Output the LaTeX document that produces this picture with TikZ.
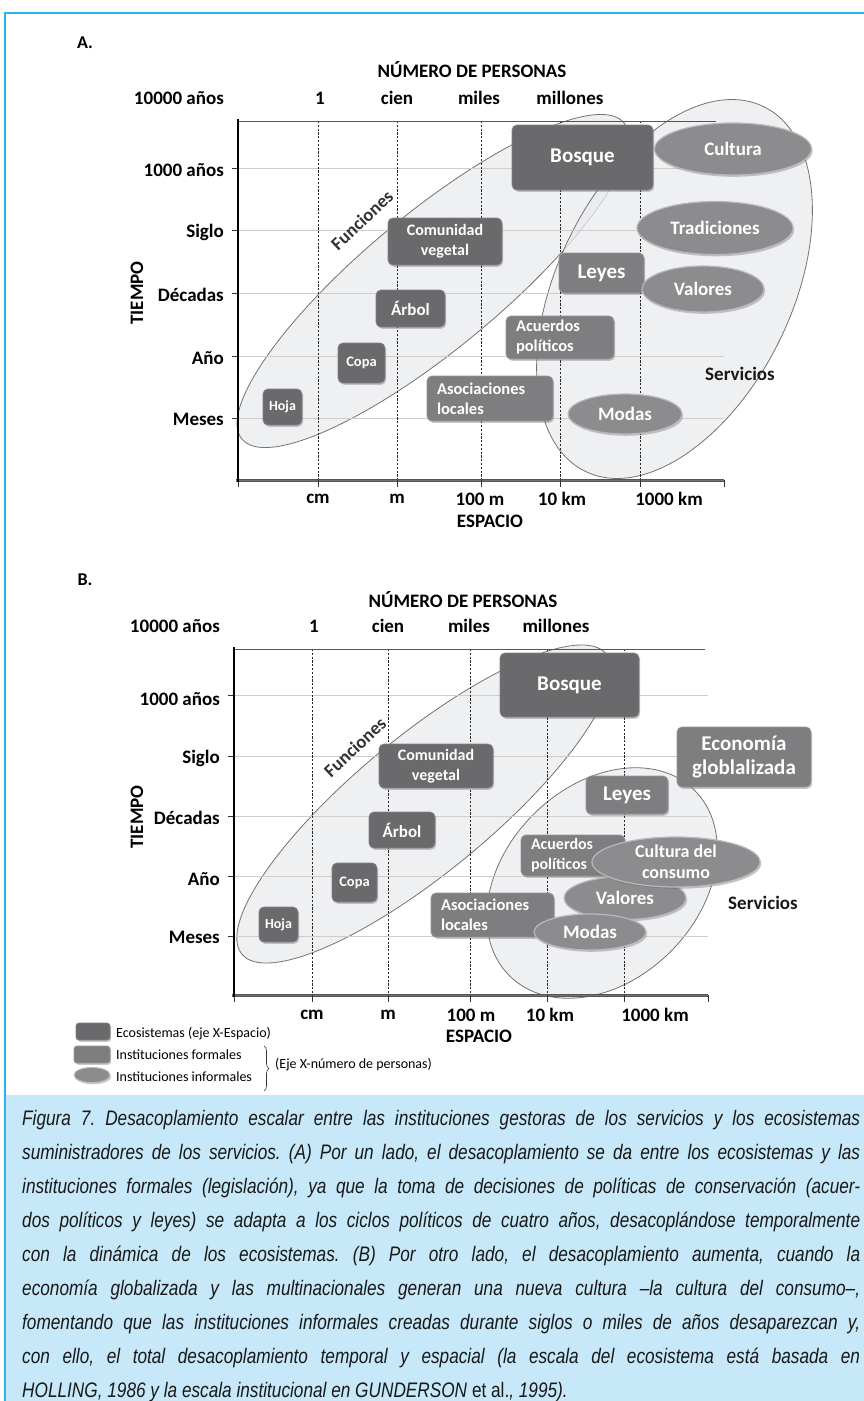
\documentclass[tikz,border=0pt]{standalone}
\usepackage{fontspec}
\setmainfont{Carlito}
\newfontfamily\capfont[FakeStretch=0.82]{Liberation Sans}
\usetikzlibrary{shapes.geometric,shadows,decorations.pathreplacing}
\newcommand\fsz[2]{\fontsize{#1}{#2}\selectfont}
\frenchspacing
\definecolor{framecyan}{RGB}{40,182,232}
\definecolor{capblue}{RGB}{198,232,248}
\definecolor{ecogray}{RGB}{106,106,108}
\definecolor{ecoedge}{RGB}{130,130,132}
\definecolor{formgray}{RGB}{126,126,128}
\definecolor{formedge}{RGB}{150,150,152}
\definecolor{infgray}{RGB}{140,140,142}
\definecolor{infrim}{RGB}{185,185,187}
\definecolor{bigfill}{RGB}{234,235,238}
\definecolor{bigline}{RGB}{115,115,115}
\definecolor{gridgray}{RGB}{205,205,205}
\definecolor{axisgray}{RGB}{85,85,85}
\tikzset{
  shad/.style={drop shadow={shadow xshift=1.2pt, shadow yshift=-1.8pt, opacity=0.35, fill=black!60}},
  ecobox/.style={rectangle, rounded corners=5pt, fill=ecogray, draw=ecoedge, line width=0.8pt, text=white, font=\bfseries, inner sep=0pt, align=center, shad},
  formbox/.style={ecobox, fill=formgray, draw=formedge},
  infell/.style={ellipse, fill=infgray, draw=infrim, line width=1.2pt, text=white, font=\bfseries, inner sep=0pt, align=center, shad},
  axlab/.style={font=\bfseries\fsz{19}{22}, text=black, inner sep=0pt},
  ticklab/.style={axlab, anchor=east},
  panellab/.style={font=\bfseries\fsz{18}{20}, inner sep=0pt},
  bigell/.style={fill=bigfill, fill opacity=0.75, draw=bigline, line width=0.8pt},
  dashv/.style={black!85, line width=0.55pt, dash pattern=on 2.2pt off 1.6pt},
  gridh/.style={gridgray, line width=0.7pt},
  tickm/.style={black!80, line width=0.8pt},
  funlab/.style={font=\bfseries\fsz{18.5}{20}, text=black!80, inner sep=0pt, rotate=43},
  servlab/.style={font=\bfseries\fsz{19}{22}, text=black!90, inner sep=0pt},
  leglab/.style={font=\fsz{14}{16}, anchor=west, inner sep=0pt},
  capline/.style={font=\capfont\itshape\fsz{21}{34}, text=black!90, anchor=base west, inner sep=0pt},
}
\begin{document}
\begin{tikzpicture}[x=1pt,y=-1pt]
\useasboundingbox (0,0) rectangle (864,1401);
\fill[white] (0,0) rectangle (864,1401);
\fill[capblue] (5,1095) rectangle (866,1403);
\draw[framecyan, line width=1.5pt] (5,1403) -- (5,13) -- (866,13);

% ================= PANEL A =================
\node[panellab] (labA) at (85,43) {A.};
\node[axlab] (npA) at (472,70) {NÚMERO DE PERSONAS};
\node[ticklab] (t10kA) at (224,98) {10000 años};
\node[axlab] (n1A) at (320,98) {1};
\node[axlab] (ncienA) at (397,98) {cien};
\node[axlab] (nmilesA) at (479,98) {miles};
\node[axlab] (nmillA) at (570,98) {millones};

% big ellipses
\draw[bigell, rotate around={39.6:(433,281)}] (433,281) ellipse [x radius=248, y radius=68];
\draw[bigell, rotate around={63.9:(674.5,289)}] (674.5,289) ellipse [x radius=203, y radius=117];

% grid
\foreach \y in {168,230,293,356,418} {
  \draw[gridh] (238,\y) -- (724,\y);
  \draw[tickm] (232,\y) -- (238,\y);
}
\foreach \x in {318.5,397,481,560,640} \draw[dashv] (\x,121) -- (\x,480);
\draw[axisgray, line width=1pt] (238,121) -- (716,121);
\draw[axisgray, line width=3pt] (236,480) -- (724,480);
\draw[black!55, line width=0.8pt] (236,480) -- (724,480);
\foreach \x in {238,318.5,397,481,560,640,724} \draw[tickm] (\x,480) -- (\x,487);
\draw[black, line width=2.6pt] (238,119) -- (238,482);

\node[ticklab] (y1kA) at (224,170) {1000 años};
\node[ticklab] (ysA) at (224,232) {Siglo};
\node[ticklab] (ydA) at (224,295) {Décadas};
\node[ticklab] (yaA) at (224,358) {Año};
\node[ticklab] (ymA) at (224,419) {Meses};
\node[axlab, rotate=90] (tiempoA) at (137,293) {TIEMPO};
\node[axlab] (xcmA) at (318,499) {cm};
\node[axlab] (xmA) at (397,499) {m};
\node[axlab] (x100A) at (480,499) {100 m};
\node[axlab] (x10kA) at (562,499) {10 km};
\node[axlab] (x1000A) at (669,499) {1000 km};
\node[axlab] (espA) at (490,521) {ESPACIO};

\node[funlab] (funA) at (362,220) {Funciones};
\node[servlab] (servA) at (740,374) {Servicios};

\node[ecobox, minimum width=141pt, minimum height=65pt, font=\bfseries\fsz{21}{24}] (bosqueA) at (582.5,157.5) {Bosque};
\node[ecobox, minimum width=114pt, minimum height=47pt, font=\bfseries\fsz{16}{20}] (comA) at (445,241.5) {Comunidad\\vegetal};
\node[ecobox, minimum width=69pt, minimum height=37pt, font=\bfseries\fsz{17}{20}] (arbolA) at (410.5,308.5) {Árbol};
\node[ecobox, minimum width=47pt, minimum height=40pt, font=\bfseries\fsz{14.5}{17}] (copaA) at (361.5,363) {Copa};
\node[ecobox, minimum width=39pt, minimum height=36pt, font=\bfseries\fsz{14}{17}] (hojaA) at (282.5,407) {Hoja};
\node[formbox, minimum width=85pt, minimum height=40pt, font=\bfseries\fsz{21}{24}] (leyesA) at (601.5,273) {Leyes};
\node[formbox, text width=88pt, inner xsep=10pt, minimum height=43pt, align=left, font=\bfseries\fsz{16.5}{20}] (acuA) at (560,337.5) {Acuerdos\\políticos};
\node[formbox, text width=106pt, inner xsep=10pt, minimum height=45pt, align=left, font=\bfseries\fsz{16.5}{20}] (asoA) at (490,398.5) {Asociaciones\\locales};
\node[infell, minimum width=157pt, minimum height=52pt, font=\bfseries\fsz{19}{22}] (culA) at (733,149) {Cultura};
\node[infell, minimum width=156pt, minimum height=53pt, font=\bfseries\fsz{19}{22}] (traA) at (715,228) {Tradiciones};
\node[infell, minimum width=122pt, minimum height=46pt, font=\bfseries\fsz{19}{22}] (valA) at (703,289) {Valores};
\node[infell, minimum width=114pt, minimum height=40pt, font=\bfseries\fsz{19}{22}] (modA) at (625,414) {Modas};

% ================= PANEL B =================
\node[panellab] (labB) at (85,580) {B.};
\node[axlab] (npB) at (463,600) {NÚMERO DE PERSONAS};
\node[ticklab] (t10kB) at (220,626) {10000 años};
\node[axlab] (n1B) at (314,626) {1};
\node[axlab] (ncienB) at (388,626) {cien};
\node[axlab] (nmilesB) at (469,626) {miles};
\node[axlab] (nmillB) at (556,626) {millones};

\draw[bigell, rotate around={39.5:(424,804)}] (424,804) ellipse [x radius=236, y radius=68];
\draw[bigell, rotate around={45:(602,883)}] (602,883) ellipse [x radius=131, y radius=97];

\foreach \y in {695,756,816,876,936} {
  \draw[gridh] (234,\y) -- (708,\y);
  \draw[tickm] (228,\y) -- (234,\y);
}
\foreach \x in {312,388,470,547,624} \draw[dashv] (\x,649) -- (\x,995);
\draw[axisgray, line width=1pt] (234,649) -- (705,649);
\draw[axisgray, line width=3pt] (232,995) -- (708,995);
\draw[black!55, line width=0.8pt] (232,995) -- (708,995);
\foreach \x in {234,312,388,470,547,624,708} \draw[tickm] (\x,995) -- (\x,1002);
\draw[black, line width=2.6pt] (234,647) -- (234,997);

\node[ticklab] (y1kB) at (220,699) {1000 años};
\node[ticklab] (ysB) at (220,758) {Siglo};
\node[ticklab] (ydB) at (220,818) {Décadas};
\node[ticklab] (yaB) at (220,879) {Año};
\node[ticklab] (ymB) at (220,937) {Meses};
\node[axlab, rotate=90] (tiempoB) at (137,817) {TIEMPO};
\node[axlab] (xcmB) at (312,1015) {cm};
\node[axlab] (xmB) at (388,1015) {m};
\node[axlab] (x100B) at (471,1015) {100 m};
\node[axlab] (x10kB) at (550,1015) {10 km};
\node[axlab] (x1000B) at (655,1015) {1000 km};
\node[axlab] (espB) at (479,1036) {ESPACIO};

\node[funlab] (funB) at (355,747) {Funciones};
\node[servlab] (servB) at (763,903) {Servicios};

\node[ecobox, minimum width=139pt, minimum height=64pt, font=\bfseries\fsz{21}{24}] (bosqueB) at (569.5,685) {Bosque};
\node[ecobox, minimum width=114pt, minimum height=44pt, font=\bfseries\fsz{16}{20}] (comB) at (436,766) {Comunidad\\vegetal};
\node[ecobox, minimum width=66pt, minimum height=36pt, font=\bfseries\fsz{17}{20}] (arbolB) at (402,830) {Árbol};
\node[ecobox, minimum width=45pt, minimum height=39pt, font=\bfseries\fsz{14.5}{17}] (copaB) at (354.5,882.5) {Copa};
\node[ecobox, minimum width=39pt, minimum height=35pt, font=\bfseries\fsz{14}{17}] (hojaB) at (278.5,924.5) {Hoja};
\node[formbox, minimum width=134pt, minimum height=60pt, font=\bfseries\fsz{21}{24}] (ecoB) at (744,757) {Economía\\globlalizada};
\node[formbox, minimum width=82pt, minimum height=38pt, font=\bfseries\fsz{21}{24}] (leyesB) at (627,795) {Leyes};
\node[formbox, text width=84pt, inner xsep=10pt, minimum height=41pt, align=left, font=\bfseries\fsz{16}{20}] (acuB) at (573,855.5) {Acuerdos\\políticos};
\node[formbox, text width=103pt, inner xsep=10pt, minimum height=44pt, align=left, font=\bfseries\fsz{16.5}{20}] (asoB) at (492.5,915) {Asociaciones\\locales};
\node[infell, minimum width=122pt, minimum height=43pt, font=\bfseries\fsz{19}{22}] (valB) at (625,898) {Valores};
\node[infell, minimum width=168pt, minimum height=50pt, inner ysep=-6pt, font=\bfseries\fsz{18}{21}] (culB) at (676,862) {Cultura del\\consumo};
\node[infell, minimum width=112pt, minimum height=36pt, font=\bfseries\fsz{19}{22}] (modB) at (590,932) {Modas};

% ================= LEGEND =================
\node[ecobox, minimum width=34pt, minimum height=17pt, rounded corners=3pt] (legEco) at (93,1031.5) {};
\node[formbox, minimum width=36pt, minimum height=17pt, rounded corners=3pt] (legForm) at (92,1054.5) {};
\node[infell, minimum width=36pt, minimum height=15pt, line width=0.8pt] (legInf) at (92,1075) {};
\node[leglab] (legEcoT) at (116,1034) {Ecosistemas (eje X-Espacio)};
\node[leglab] (legFormT) at (116,1055) {Instituciones formales};
\node[leglab] (legInfT) at (116,1077) {Instituciones informales};
\coordinate (brTop) at (264,1046);
\coordinate (brBot) at (264,1091);
\draw[decorate, decoration={brace, amplitude=5pt}, black!80, line width=0.6pt] (brTop) -- (brBot);
\node[leglab] (legBrT) at (275,1065) {(Eje X-número de personas)};

% ================= CAPTION =================
\node[capline] (cap1) at (22,1125) {\makebox[838pt][s]{Figura 7. Desacoplamiento escalar entre las instituciones gestoras de los servicios y los ecosistemas}};
\node[capline] (cap2) at (22,1159) {\makebox[838pt][s]{suministradores de los servicios. (A) Por un lado, el desacoplamiento se da entre los ecosistemas y las}};
\node[capline] (cap3) at (22,1193) {\makebox[838pt][s]{instituciones formales (legislación), ya que la toma de decisiones de políticas de conservación (acuer-}};
\node[capline] (cap4) at (22,1227) {\makebox[838pt][s]{dos políticos y leyes) se adapta a los ciclos políticos de cuatro años, desacoplándose temporalmente}};
\node[capline] (cap5) at (22,1261) {\makebox[838pt][s]{con la dinámica de los ecosistemas. (B) Por otro lado, el desacoplamiento aumenta, cuando la}};
\node[capline] (cap6) at (22,1295) {\makebox[838pt][s]{economía globalizada y las multinacionales generan una nueva cultura –la cultura del consumo–,}};
\node[capline] (cap7) at (22,1329) {\makebox[838pt][s]{fomentando que las instituciones informales creadas durante siglos o miles de años desaparezcan y,}};
\node[capline] (cap8) at (22,1363) {\makebox[838pt][s]{con ello, el total desacoplamiento temporal y espacial (la escala del ecosistema está basada en}};
\node[capline] (cap9) at (22,1397) {HOLLING, 1986 y la escala institucional en GUNDERSON {\upshape et al.}, 1995).};
\end{tikzpicture}
\end{document}
